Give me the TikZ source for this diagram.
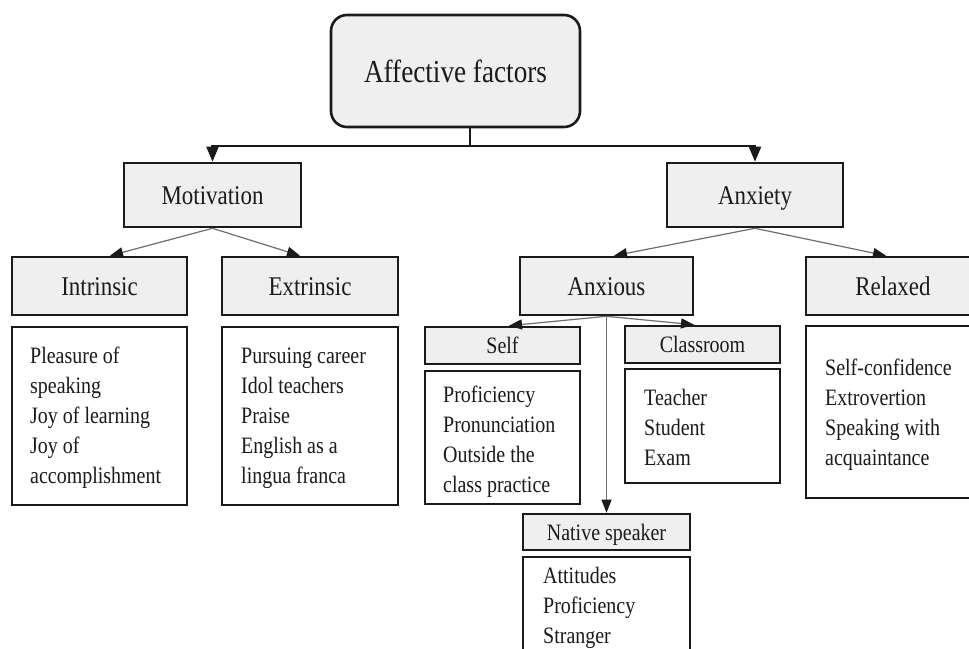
\documentclass[tikz,border=0pt]{standalone}
\usepackage{fontspec}
\setmainfont{Liberation Serif}
\usetikzlibrary{arrows.meta,calc}
\definecolor{boxfill}{HTML}{EFEFEF}
\definecolor{ink}{HTML}{1A1A1A}
\definecolor{subline}{HTML}{6E6E6E}
\newcommand\itemlist[1]{\scalebox{0.85}[1]{\begin{tabular}{@{}l@{}}#1\end{tabular}}}
\newcommand\nw[1]{\scalebox{0.85}[1]{#1}}
\begin{document}
\begin{tikzpicture}[x=1pt,y=-1pt,
  box/.style={draw=ink, line width=2.6pt, fill=boxfill, rectangle, inner sep=0pt, text=ink},
  listbox/.style={draw=ink, line width=2.6pt, fill=white, rectangle, inner sep=0pt},
  lbl/.style={font=\fontsize{27}{30}\selectfont, text height=18pt, text depth=0pt},
  slbl/.style={font=\fontsize{23.5}{26}\selectfont, text height=16.5pt, text depth=0pt},
  listtext/.style={anchor=north west, inner sep=0pt, text=ink, font=\fontsize{23.5}{30}\selectfont},
  mainarrow/.style={draw=ink, line width=2.2pt, -{Triangle[length=15pt,width=12pt]}},
  subarrow/.style={draw=subline, line width=1.2pt, -{Triangle[length=13pt,width=10pt,color=ink]}}
]
\useasboundingbox (0,0) rectangle (969,648);
\clip (0,0) rectangle (969,648);
\fill[white] (0,0) rectangle (969,648);

% top
\node[box, rounded corners=16pt, minimum width=249pt, minimum height=112pt,
      font=\fontsize{32}{36}\selectfont, text height=22pt, text depth=0pt] (aff) at (455.5,71) {\nw{Affective factors}};

% level 1
\node[box, lbl, minimum width=177pt, minimum height=64pt] (mot) at (212.5,195) {\nw{Motivation}};
\node[box, lbl, minimum width=176pt, minimum height=64pt] (anx) at (755,195) {\nw{Anxiety}};

% level 2
\node[box, lbl, minimum width=175pt, minimum height=58pt] (intr) at (99.5,286) {\nw{Intrinsic}};
\node[box, lbl, minimum width=176pt, minimum height=58pt] (extr) at (310,286) {\nw{Extrinsic}};
\node[box, lbl, minimum width=173pt, minimum height=58pt] (anxs) at (606.5,286) {\nw{Anxious}};
\node[box, lbl, minimum width=174pt, minimum height=58pt] (rel) at (893,286) {\nw{Relaxed}};

% lists under motivation
\node[listbox, minimum width=175pt, minimum height=178pt] (intrL) at (99.5,416) {};
\node[listtext] (intrT) at (30,342) {\itemlist{Pleasure of\\speaking\\Joy of learning\\Joy of\\accomplishment}};
\node[listbox, minimum width=176pt, minimum height=178pt] (extrL) at (310,416) {};
\node[listtext] (extrT) at (241,342) {\itemlist{Pursuing career\\Idol teachers\\Praise\\English as a\\lingua franca}};

% relaxed list
\node[listbox, minimum width=174pt, minimum height=172pt] (relL) at (893,412) {};
\node[listtext] (relT) at (825,354) {\itemlist{Self-confidence\\Extrovertion\\Speaking with\\acquaintance}};

% anxious children
\node[box, slbl, minimum width=155pt, minimum height=37pt] (self) at (502.5,345.5) {\nw{Self}};
\node[listbox, minimum width=155pt, minimum height=133pt] (selfL) at (502.5,437.5) {};
\node[listtext] (selfT) at (443,381) {\itemlist{Proficiency\\Pronunciation\\Outside the\\class practice}};

\node[box, slbl, minimum width=155pt, minimum height=37pt] (cls) at (702.5,344.5) {\nw{Classroom}};
\node[listbox, minimum width=155pt, minimum height=114pt] (clsL) at (702.5,426) {};
\node[listtext] (clsT) at (644,384) {\itemlist{Teacher\\Student\\Exam}};

\node[box, slbl, minimum width=167pt, minimum height=36pt] (nat) at (606.5,532) {\nw{Native speaker}};
\node[listbox, minimum width=167pt, minimum height=142pt] (natL) at (606.5,628) {};
\node[listtext] (natT) at (543,562) {\itemlist{Attitudes\\Proficiency\\Stranger}};

% connectors
\coordinate (j) at ($(aff.south)+(14.5,18)$);
\draw[draw=ink, line width=2.2pt] ([xshift=14.5pt]aff.south) -- (j);
\draw[mainarrow] (j) -| (mot.north);
\draw[mainarrow] (j) -| (anx.north);

\draw[subarrow] (mot.south) -- ([xshift=10.5pt]intr.north);
\draw[subarrow] (mot.south) -- ([xshift=-10pt]extr.north);
\draw[subarrow] (anx.south) -- ([xshift=7.5pt]anxs.north);
\draw[subarrow] (anx.south) -- ([xshift=-7pt]rel.north);

\draw[subarrow] (anxs.south) -- ([xshift=6.5pt]self.north);
\draw[subarrow] (anxs.south) -- ([xshift=-8.5pt]cls.north);
\draw[subarrow] (anxs.south) -- (nat.north);
\end{tikzpicture}
\end{document}
